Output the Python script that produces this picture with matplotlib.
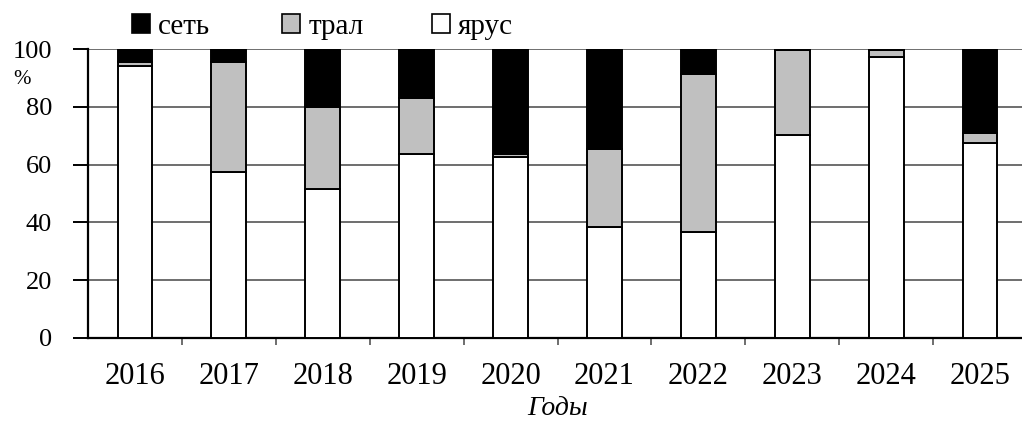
import numpy as np
import matplotlib
matplotlib.use("Agg")
import matplotlib.pyplot as plt
from matplotlib.patches import Patch

# data (% of catch by gear type)
years = ["2016", "2017", "2018", "2019", "2020", "2021", "2022", "2023", "2024", "2025"]
yarus = [94.0, 57.5, 51.6, 63.6, 62.6, 38.3, 36.8, 70.1, 97.1, 67.5]
tral = [1.4, 37.9, 28.2, 19.3, 1.2, 27.2, 54.4, 29.4, 2.4, 3.4]
set_ = [4.6, 4.6, 20.2, 17.1, 36.2, 34.5, 8.8, 0.5, 0.5, 29.1]
labels = ["сеть", "трал", "ярус"]

plt.rcParams['font.family'] = ['Liberation Serif', 'DejaVu Serif']

fig = plt.figure(figsize=(10.22, 4.25), dpi=100)
ax = fig.add_axes([88 / 1022, 87 / 425, 939 / 1022, 289 / 425])

x = np.arange(len(years))
w = 0.37
yarus = np.array(yarus)
tral = np.array(tral)
set_ = np.array(set_)

ax.bar(x, yarus, w, color="white", edgecolor="black", linewidth=1.4, zorder=3)
ax.bar(x, tral, w, bottom=yarus, color="#c0c0c0", edgecolor="black", linewidth=1.4, zorder=3)
ax.bar(x, set_, w, bottom=yarus + tral, color="black", edgecolor="black", linewidth=1.4, zorder=3)

ax.set_xlim(-0.5, len(years) - 0.5)
ax.set_ylim(0, 100)
ax.set_yticks(range(0, 101, 20))
ax.yaxis.grid(True, color="#555555", linewidth=1.2, zorder=0)
ax.set_axisbelow(True)

for s in ["top", "right"]:
    ax.spines[s].set_visible(False)
ax.spines["left"].set_linewidth(1.6)
ax.spines["bottom"].set_linewidth(1.6)

ax.tick_params(axis="y", direction="out", length=11, width=1.4, labelsize=19, pad=15)
ax.set_xticks(x)
ax.set_xticklabels(years)
ax.tick_params(axis="x", length=0, labelsize=22, pad=17)
ax.set_xticks(np.arange(-0.5, len(years) - 0.5, 1.0)[1:], minor=True)
ax.tick_params(axis="x", which="minor", direction="out", length=5, width=1.2, color="#555555")

ax.set_xlabel("Годы", fontsize=20, style="italic", labelpad=4)
fig.text(22 / 1022, 1 - 80 / 425, "%", fontsize=15, ha="center", va="center")

# legend: three entries at equal spacing along the top
colors = ["black", "#c0c0c0", "white"]
for i, (lab, c) in enumerate(zip(labels, colors)):
    h = Patch(facecolor=c, edgecolor="black", linewidth=1.2, label=lab)
    fig.legend(handles=[h], loc="center left",
               bbox_to_anchor=((132 + 150 * i) / 1022, 1 - 27 / 425),
               frameon=False, fontsize=21, handlelength=0.62, handleheight=0.62,
               handletextpad=0.28, borderpad=0, borderaxespad=0)

fig.savefig("out.png", dpi=100)
